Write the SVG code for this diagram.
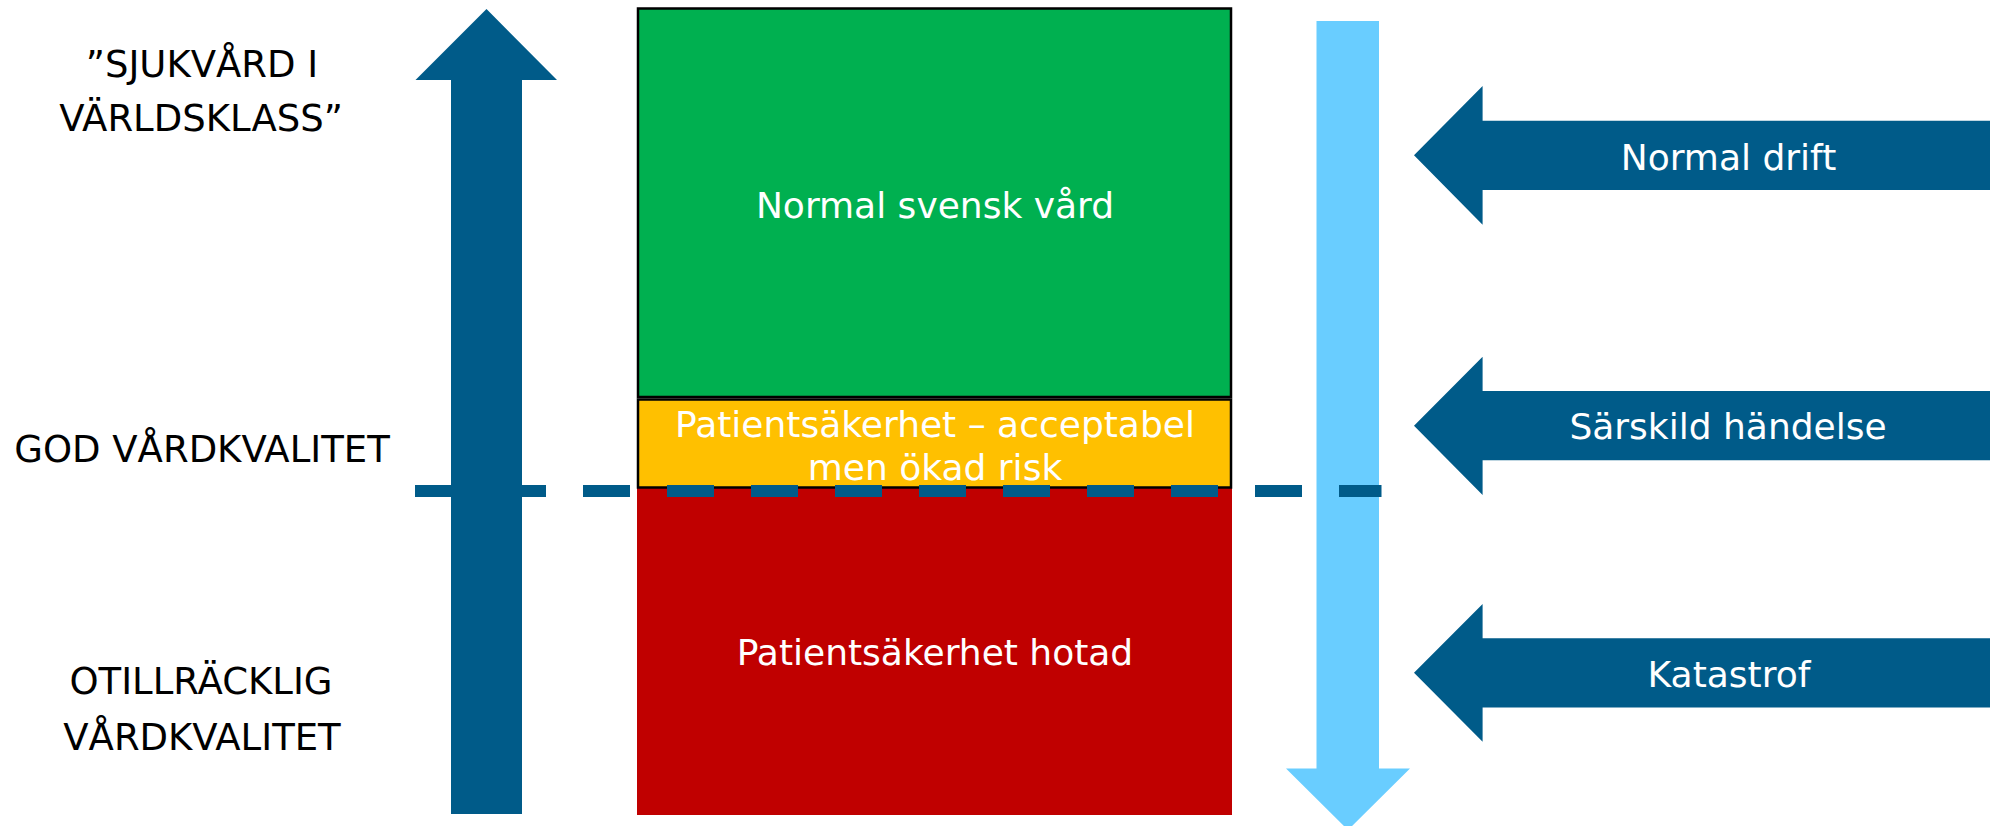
<svg xmlns="http://www.w3.org/2000/svg" width="1990" height="826" viewBox="0 0 1990 826">
<style>
.t{font-family:"DejaVu Sans","Liberation Sans",sans-serif;font-size:36px;text-anchor:middle}
.lbl{font-size:37px}
.w{fill:#FFFFFF}
.k{fill:#000000}
.db{fill:#005B89}
.box{stroke:#000000;stroke-width:2.5}
</style>
<rect width="1990" height="826" fill="#FFFFFF"/>
<g id="left-labels">
<text class="t lbl k" x="202" y="77">”SJUKVÅRD I</text>
<text class="t lbl k" x="201" y="131">VÄRLDSKLASS”</text>
<text class="t lbl k" x="202" y="462">GOD VÅRDKVALITET</text>
<text class="t lbl k" x="201" y="694">OTILLRÄCKLIG</text>
<text class="t lbl k" x="202" y="750">VÅRDKVALITET</text>
</g>
<g id="up-arrow">
<polygon class="db" points="486.5,9 557,80 522,80 522,814 451,814 451,80 415.5,80"/>
</g>
<g id="red-box">
<rect x="637" y="487" width="595" height="328" fill="#C00000"/>
<text class="t w" x="935" y="665">Patientsäkerhet hotad</text>
</g>
<g id="green-box">
<rect class="box" x="638" y="8.5" width="593" height="388.5" fill="#00B050"/>
<text class="t w" x="935" y="218">Normal svensk vård</text>
</g>
<g id="yellow-box">
<rect class="box" x="638" y="399.5" width="593" height="88" fill="#FFC000"/>
<text class="t w" x="935" y="437">Patientsäkerhet – acceptabel</text>
<text class="t w" x="935" y="480">men ökad risk</text>
</g>
<g id="down-arrow">
<polygon fill="#69CDFF" points="1316.5,21 1379,21 1379,768.5 1410,768.5 1348,830 1286,768.5 1316.5,768.5"/>
</g>
<g id="normal-drift">
<polygon class="db" points="1414,155.3 1482.6,86 1482.6,120.7 1990,120.7 1990,190 1482.6,190 1482.6,224.7"/>
<text class="t w" x="1728.5" y="170">Normal drift</text>
</g>
<g id="sarskild-handelse">
<polygon class="db" points="1414,425.7 1482.6,356.7 1482.6,391 1990,391 1990,460.3 1482.6,460.3 1482.6,495"/>
<text class="t w" x="1728" y="439">Särskild händelse</text>
</g>
<g id="katastrof">
<polygon class="db" points="1414,672.8 1482.6,604 1482.6,638.3 1990,638.3 1990,707.5 1482.6,707.5 1482.6,741.7"/>
<text class="t w" x="1729" y="687">Katastrof</text>
</g>
<g id="connectors">
<line x1="415" y1="491" x2="1381.5" y2="491" stroke="#005B89" stroke-width="12" stroke-dasharray="47 37"/>
</g>
</svg>
